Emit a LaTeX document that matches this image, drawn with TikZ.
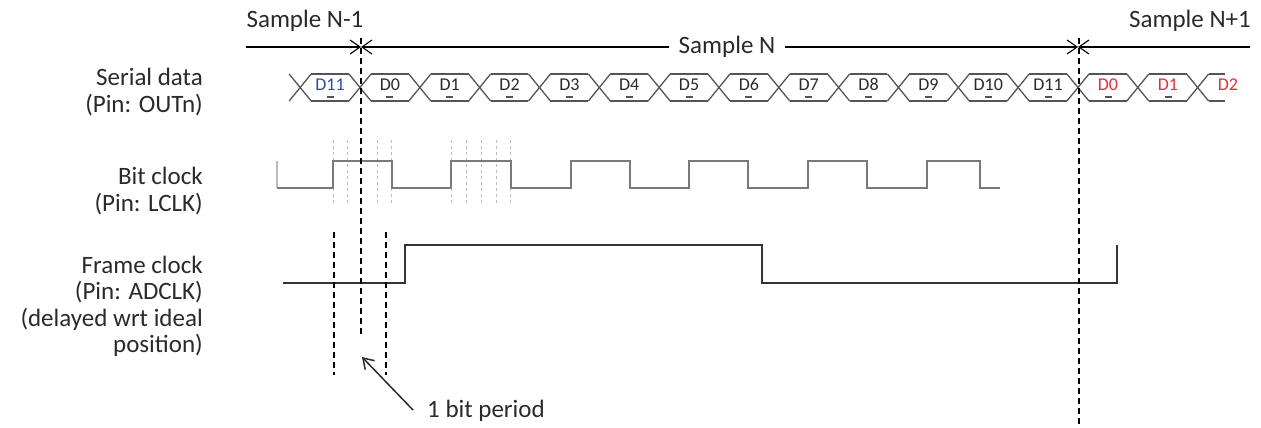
\documentclass[tikz,border=0pt]{standalone}
\usepackage{fontspec}
\setmainfont{Carlito}[RawFeature={+lnum;+tnum}]
\usetikzlibrary{arrows.meta}
\definecolor{txt}{HTML}{2A2A2A}
\definecolor{dgray}{HTML}{555555}
\definecolor{cgray}{HTML}{7A7A7A}
\definecolor{lgray}{HTML}{BBBBBB}
\definecolor{fblack}{HTML}{333333}
\definecolor{dblue}{HTML}{2E4C9E}
\definecolor{dred}{HTML}{E0303A}
\begin{document}
\begin{tikzpicture}[x=1pt,y=-1pt,
  lbl/.style={font=\fontsize{25}{26.5}\selectfont, text=txt, align=right, anchor=east, inner sep=0pt},
  ttl/.style={font=\fontsize{25}{26.5}\selectfont, text=txt, inner sep=0pt},
  dlbl/.style={font=\fontsize{18}{20}\selectfont, text=txt, inner sep=0pt, anchor=base},
  dataline/.style={draw=dgray, line width=1.3pt},
  bitclk/.style={draw=cgray, line width=2.2pt},
  frclk/.style={draw=fblack, line width=1.8pt},
  vdash/.style={draw=black, line width=1.1pt, dash pattern=on 6pt off 4pt},
  gdot/.style={draw=lgray, line width=1pt, dash pattern=on 3pt off 3pt},
  tick/.style={draw=dgray, line width=1.2pt},
  sarrow/.style={draw=black, line width=1.1pt, -{Straight Barb[length=10pt,width=14pt]}},
  parrow/.style={draw=txt, line width=1.5pt, -{Straight Barb[length=10pt,width=13pt]}},
]
\useasboundingbox[fill=white] (0,0) rectangle (1261,428);

% left labels
\node[lbl] (lsd) at (203,92) {Serial data\\(Pin: OUTn)};
\node[lbl] (lbc) at (203,191) {Bit clock\\(Pin: LCLK)};
\node[lbl] (lfc) at (203,306.5) {Frame clock\\(Pin: ADCLK)\\(delayed wrt ideal\\position)};

% top sample arrows
\coordinate (tA) at (246,47);
\coordinate (tL) at (361,47);
\coordinate (tR) at (1078,47);
\coordinate (tB) at (1250,47);
\node[ttl] (sNm1) at (305,21) {Sample N-1};
\node[ttl] (sNp1) at (1190,21) {Sample N+1};
\node[ttl, inner xsep=10pt, inner ysep=2pt, fill=white] (sN) at (727,47) {Sample N};
\draw[sarrow] (tA) -- (tL);
\draw[sarrow] (sN) -- (tL);
\draw[sarrow] (sN) -- (tR);
\draw[sarrow] (tB) -- (tR);

% serial data
\foreach \k in {-1,...,14}{
  \pgfmathsetmacro\c{360+\k*59.83}
  \draw[dataline] ({\c-11},74) -- ({\c+11},101);
  \draw[dataline] ({\c-11},101) -- ({\c+11},74);
}
\foreach \k in {-1,...,13}{
  \pgfmathsetmacro\a{360+\k*59.83+11}
  \pgfmathsetmacro\b{360+(\k+1)*59.83-11}
  \draw[dataline] (\a,74) -- (\b,74);
  \draw[dataline] (\a,101) -- (\b,101);
}
\draw[dataline] (1208.6,74) -- (1225,74);
\draw[dataline] (1208.6,101) -- (1225,101);
\foreach \i in {0,...,11}{
  \pgfmathsetmacro\m{360+(\i+0.5)*59.83}
  \node[dlbl] (d\i) at (\m,91) {D\i};
  \draw[tick] ({\m-3.5},97) -- ({\m+3.5},97);
}
\node[dlbl, text=dblue] (dprev) at (330,91) {D11};
\draw[tick] (326.5,97) -- (333.5,97);
\node[dlbl, text=dred] (dn0) at (1108,91) {D0};
\draw[tick] (1104.5,97) -- (1111.5,97);
\node[dlbl, text=dred] (dn1) at (1168,91) {D1};
\draw[tick] (1164.5,97) -- (1171.5,97);
\node[dlbl, text=dred] (dn2) at (1228,91) {D2};

% grey sampling lines
\foreach \x in {333,347,377,391,451,466,481,496,510}
  \draw[gdot] (\x,140) -- (\x,205);

% bit clock
\draw[lgray, line width=1.5pt] (277,161) -- (277,188);
\draw[bitclk] (277,188) -| (333,161) -| (392,188) -| (451,161) -| (511,188)
  -| (571,161) -| (630,188) -| (689,161) -| (748,188) -| (808,161) -| (867,188)
  -| (927,161) -| (980,188) -- (1000,188);

% frame clock
\draw[frclk] (283,283) -| (405,245) -| (762,283) -| (1117,245);

% dashed reference lines
\draw[vdash] (361,38) -- (361,335);
\draw[vdash] (334,232) -- (334,375);
\draw[vdash] (386,232) -- (386,375);
\draw[vdash] (1079,38) -- (1079,425);

% 1 bit period
\coordinate (tip) at (362,357);
\node[ttl, anchor=west] (bp) at (427,411) {1 bit period};
\draw[parrow] (bp.west) ++(-14,-1) -- (tip);
\end{tikzpicture}
\end{document}
